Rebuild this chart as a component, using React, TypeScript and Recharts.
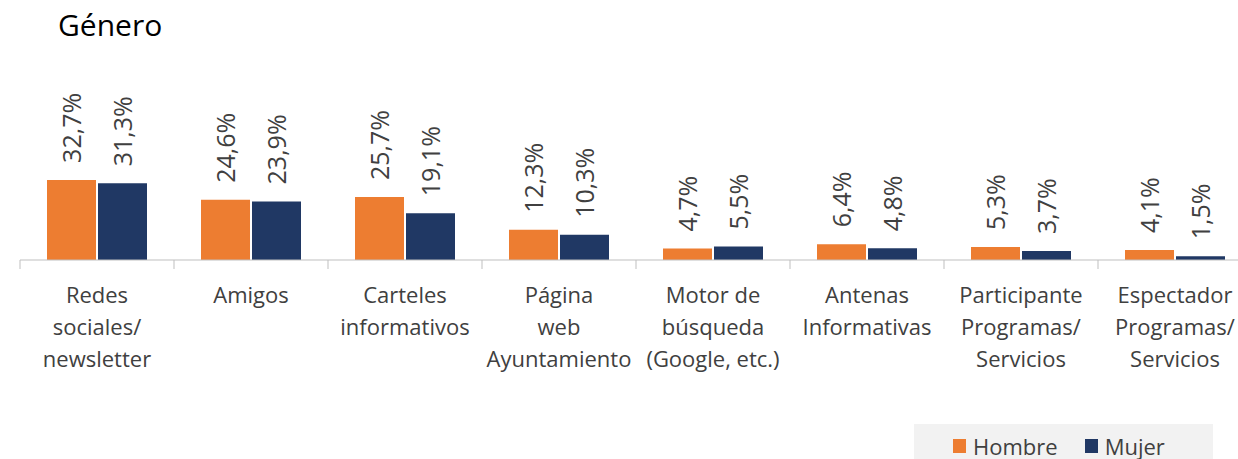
import React from 'react';
import { BarChart, Bar, XAxis, YAxis, Legend, LabelList } from 'recharts';

const categories = [
  'Redes\nsociales/\nnewsletter',
  'Amigos',
  'Carteles\ninformativos',
  'Página\nweb\nAyuntamiento',
  'Motor de\nbúsqueda\n(Google, etc.)',
  'Antenas\nInformativas',
  'Participante\nProgramas/\nServicios',
  'Espectador\nProgramas/\nServicios',
];
const hombre = [32.7, 24.6, 25.7, 12.3, 4.7, 6.4, 5.3, 4.1];
const mujer = [31.3, 23.9, 19.1, 10.3, 5.5, 4.8, 3.7, 1.5];
const seriesNames = ['Hombre', 'Mujer'];
const colors = ['#ED7D31', '#203864'];

const data = categories.map((c, i) => ({ name: c, hombre: hombre[i], mujer: mujer[i] }));

const FONT = '"Open Sans", sans-serif';
const TEXT = '#404040';
const BAND = 154;

const fmt = (v: number) => v.toFixed(1).replace('.', ',') + '%';

const CategoryTick = (props: any) => {
  const { x, y, payload } = props;
  const lines = String(payload.value).split('\n');
  return (
    <g>
      <line x1={x - BAND / 2} y1={y - 9} x2={x - BAND / 2} y2={y} stroke="#BFBFBF" />
      <text x={x} y={y} textAnchor="middle" fill={TEXT} fontFamily={FONT} fontSize={22}>
        {lines.map((l, i) => (
          <tspan key={i} x={x} dy={i === 0 ? 34 : 32}>
            {l}
          </tspan>
        ))}
      </text>
    </g>
  );
};

const ValueLabel = (props: any) => {
  const { x, y, width, value } = props;
  const cx = x + width / 2;
  const cy = y - 17;
  return (
    <text
      x={cx}
      y={cy}
      transform={`rotate(-90 ${cx} ${cy})`}
      textAnchor="start"
      dominantBaseline="central"
      fill={TEXT}
      fontFamily={FONT}
      fontSize={25}
    >
      {fmt(value)}
    </text>
  );
};

const LegendBox = () => (
  <div
    style={{
      background: '#F2F2F2',
      width: 299,
      height: 35,
      boxSizing: 'border-box',
      paddingTop: 8,
      display: 'flex',
      alignItems: 'center',
      fontFamily: FONT,
      fontSize: 22,
      color: TEXT,
    }}
  >
    {seriesNames.map((n, i) => (
      <div key={n} style={{ display: 'flex', alignItems: 'center', marginLeft: i === 0 ? 39 : 27 }}>
        <span style={{ width: 13, height: 14, background: colors[i], marginRight: 7, display: 'inline-block' }} />
        <span>{n}</span>
      </div>
    ))}
  </div>
);

export default function App() {
  return (
    <div style={{ position: 'absolute', left: 0, top: 0, width: 1238, height: 459, overflow: 'hidden', background: '#fff' }}>
      <div style={{ position: 'absolute', left: 58, top: 4, fontFamily: FONT, fontSize: 30, color: '#000' }}>Género</div>
      <BarChart
        width={1260}
        height={459}
        data={data}
        margin={{ top: 64, right: 8, bottom: 44, left: 20 }}
        barCategoryGap={27}
        barGap={2}
      >
        <XAxis
          dataKey="name"
          interval={0}
          height={120}
          tickLine={false}
          axisLine={{ stroke: '#BFBFBF' }}
          tick={<CategoryTick />}
          tickSize={9}
          tickMargin={0}
        />
        <YAxis hide domain={[0, 80]} />
        <Legend
          content={<LegendBox />}
          wrapperStyle={{ position: 'absolute', left: 914, top: 424, width: 299, height: 35 }}
        />
        <Bar dataKey="hombre" name={seriesNames[0]} fill={colors[0]} isAnimationActive={false}>
          <LabelList dataKey="hombre" content={<ValueLabel />} />
        </Bar>
        <Bar dataKey="mujer" name={seriesNames[1]} fill={colors[1]} isAnimationActive={false}>
          <LabelList dataKey="mujer" content={<ValueLabel />} />
        </Bar>
      </BarChart>
    </div>
  );
}
